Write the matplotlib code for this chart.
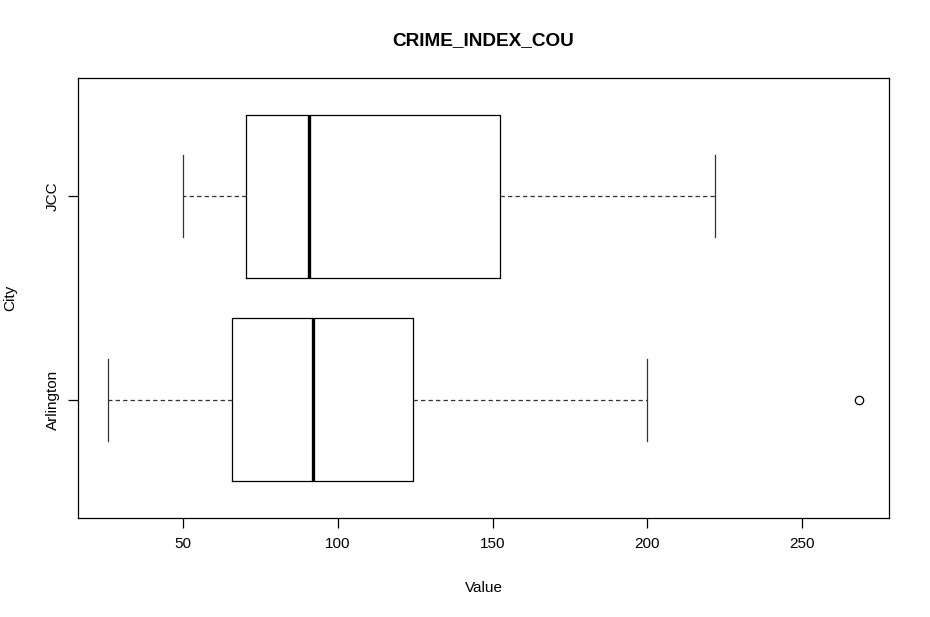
import matplotlib
matplotlib.use("Agg")
import matplotlib.pyplot as plt

plt.rcParams["font.family"] = ["Liberation Sans", "DejaVu Sans"]

cities = ["Arlington", "JCC"]
whislo = [25.7, 50.0]
q1 = [65.9, 70.4]
med = [92.1, 90.8]
q3 = [124.4, 152.3]
whishi = [199.8, 221.8]
outliers = [[268.4], []]

stats = []
for i in range(len(cities)):
    stats.append({"label": cities[i], "whislo": whislo[i], "q1": q1[i], "med": med[i],
                  "q3": q3[i], "whishi": whishi[i], "fliers": outliers[i]})

fig = plt.figure(figsize=(9.3, 6.17), dpi=100)
ax = fig.add_axes([78 / 930, 99 / 617, 811 / 930, 440 / 617])

ax.bxp(stats, positions=[1, 2], vert=False, widths=0.8, showfliers=True,
       boxprops=dict(color="black", linewidth=0.9),
       medianprops=dict(color="black", linewidth=2.4, solid_capstyle="butt"),
       whiskerprops=dict(color="#333333", linewidth=0.9, linestyle=(0, (3.5, 2.5))),
       capprops=dict(color="#333333", linewidth=0.9),
       capwidths=0.4,
       flierprops=dict(marker="o", markerfacecolor="none", markeredgecolor="black",
                       markersize=6, markeredgewidth=0.9))

lo = min(whislo + [v for o in outliers for v in o])
hi = max(whishi + [v for o in outliers for v in o])
pad = (hi - lo) * 0.04
ax.set_xlim(lo - pad, hi + pad)
ax.set_ylim(0.42, 2.58)

ax.set_xticks([50, 100, 150, 200, 250])
ax.set_xticklabels(["50", "100", "150", "200", "250"])
ax.set_yticks([1, 2])
ax.set_yticklabels(cities, rotation=90, va="center")
ax.tick_params(axis="both", length=7, width=0.9, labelsize=11)
ax.tick_params(axis="x", pad=7)
ax.tick_params(axis="y", pad=6)

for s in ax.spines.values():
    s.set_linewidth(0.9)

ax.set_xlabel("Value", fontsize=11, labelpad=21)
ax.set_ylabel("City", fontsize=11, labelpad=21)
ax.set_title("CRIME_INDEX_COU", fontsize=13.7, fontweight="bold", pad=24)

fig.savefig("out.png", dpi=100)
